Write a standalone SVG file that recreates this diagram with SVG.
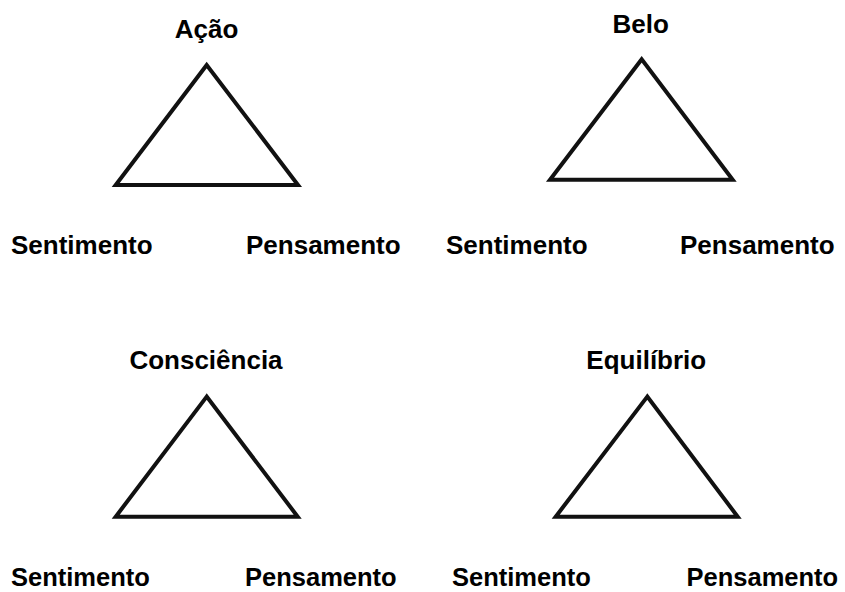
<svg xmlns="http://www.w3.org/2000/svg" width="845" height="592" viewBox="0 0 845 592">
<style>
.tri{fill:#fff;stroke:#111;stroke-width:4;stroke-linejoin:miter}
.t{font-family:"Liberation Sans",Arial,sans-serif;font-weight:bold;font-size:26px;fill:#000}
.b{font-size:25.5px}
.c{text-anchor:middle}
</style>
<rect width="845" height="592" fill="#fff"/>
<g id="node-acao">
<polygon class="tri" points="206.7,65 115.7,185 298,185"/>
<text class="t c" x="206.5" y="38">Ação</text>
<text class="t" x="11" y="254">Sentimento</text>
<text class="t" x="246" y="254">Pensamento</text>
</g>
<g id="node-belo">
<polygon class="tri" points="641.7,59.3 550,179.7 732.7,179.7"/>
<text class="t c" x="640.7" y="32.5">Belo</text>
<text class="t" x="446" y="254">Sentimento</text>
<text class="t" x="680" y="254">Pensamento</text>
</g>
<g id="node-consciencia">
<polygon class="tri" points="206.7,396.6 115.7,516.7 297.7,516.7"/>
<text class="t c" x="206" y="369">Consciência</text>
<text class="t b" x="11" y="586">Sentimento</text>
<text class="t b" x="245" y="586">Pensamento</text>
</g>
<g id="node-equilibrio">
<polygon class="tri" points="647.3,396.6 555.7,516.7 737.7,516.7"/>
<text class="t c" x="646.3" y="369">Equilíbrio</text>
<text class="t b" x="452" y="586">Sentimento</text>
<text class="t b" x="686.5" y="586">Pensamento</text>
</g>
<g id="connectors"></g>
</svg>
